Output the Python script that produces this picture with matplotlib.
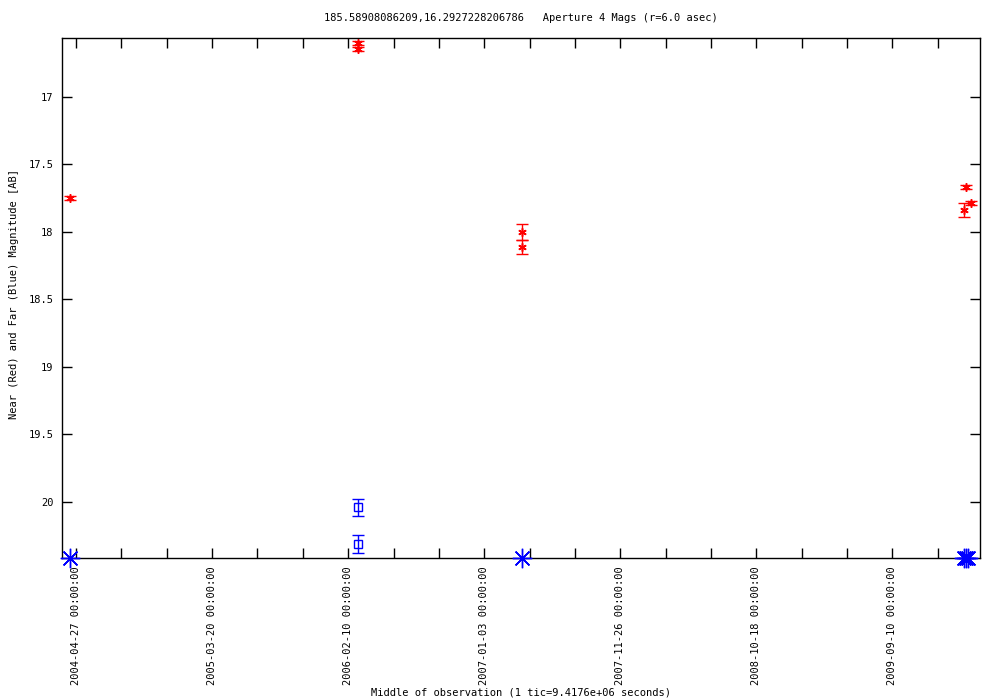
import numpy as np
import matplotlib
matplotlib.use("Agg")
import matplotlib.pyplot as plt
from datetime import datetime, timedelta

plt.rcParams['font.family'] = ['DejaVu Sans Mono']

# near (red) detections
red_dates = ["2004-04-13", "2006-03-06", "2006-03-06", "2007-04-04", "2007-04-04",
             "2010-03-06", "2010-03-18", "2010-03-01"]
red_mag = [17.748, 16.600, 16.644, 18.00, 18.11, 17.667, 17.785, 17.837]
red_err = [0.012, 0.015, 0.015, 0.06, 0.05, 0.015, 0.015, 0.05]

# far (blue) detections
blue_dates = ["2006-03-06", "2006-03-06"]
blue_mag = [20.04, 20.31]
blue_err = [0.065, 0.065]

# far (blue) limits, pinned to the bottom of the plot
lim_dates = ["2004-04-13", "2007-04-04", "2010-03-01", "2010-03-06", "2010-03-10"]

tick_start = datetime(2004, 4, 27)
tick_step = 109  # days, 9.4176e6 s
x_min = datetime(2004, 3, 24)
x_max = datetime(2010, 4, 9)
y_top = 16.563
y_bottom = 20.415

to_dt = lambda s: [datetime.strptime(d, "%Y-%m-%d") for d in s]

fig = plt.figure(figsize=(10, 7), dpi=100)
ax = fig.add_axes([0.062, 0.2029, 0.918, 0.7428])

ax.errorbar(to_dt(red_dates), red_mag, yerr=red_err, fmt='none', ecolor='red',
            elinewidth=1, capsize=4, capthick=1)
ax.plot(to_dt(red_dates), red_mag, linestyle='none', marker=(6, 2, 0),
        markersize=6, color='red', markeredgewidth=1.1)

ax.errorbar(to_dt(blue_dates), blue_mag, yerr=blue_err, fmt='none', ecolor='blue',
            elinewidth=1, capsize=4, capthick=1)
ax.plot(to_dt(blue_dates), blue_mag, linestyle='none', marker='s', markersize=6,
        markerfacecolor='none', markeredgecolor='blue', markeredgewidth=1)

ax.plot(to_dt(lim_dates), [y_bottom] * len(lim_dates), linestyle='none',
        marker=(8, 2, 0), markersize=14, color='blue', markeredgewidth=1,
        clip_on=False, zorder=5)

ax.set_xlim(x_min, x_max)
ax.set_ylim(y_bottom, y_top)

minor = [tick_start + timedelta(days=tick_step * k) for k in range(-1, 21)]
minor = [t for t in minor if x_min <= t <= x_max]
major = [tick_start + timedelta(days=tick_step * 3 * k) for k in range(7)]
ax.set_xticks(minor, minor=True)
ax.set_xticks(major)
ax.set_xticklabels([t.strftime("%Y-%m-%d %H:%M:%S") for t in major],
                   rotation=90, fontsize=7.5)
yt = [17, 17.5, 18, 18.5, 19, 19.5, 20]
ax.set_yticks(yt)
ax.set_yticklabels([("%g" % v) for v in yt], fontsize=7.5)
ax.tick_params(which='both', direction='in', top=True, right=True, length=7, width=1)
ax.tick_params(axis='y', pad=6)
ax.tick_params(axis='x', pad=6)
for s in ax.spines.values():
    s.set_linewidth(1)

fig.text(0.521, 0.974, "185.58908086209,16.2927228206786   Aperture 4 Mags (r=6.0 asec)",
         fontsize=7.5, ha='center', va='center')
fig.text(0.014, 0.58, "Near (Red) and Far (Blue) Magnitude [AB]", fontsize=7.5,
         rotation=90, ha='center', va='center')
fig.text(0.521, 0.011, "Middle of observation (1 tic=9.4176e+06 seconds)",
         fontsize=7.5, ha='center', va='center')

fig.savefig("out.png", dpi=100)
